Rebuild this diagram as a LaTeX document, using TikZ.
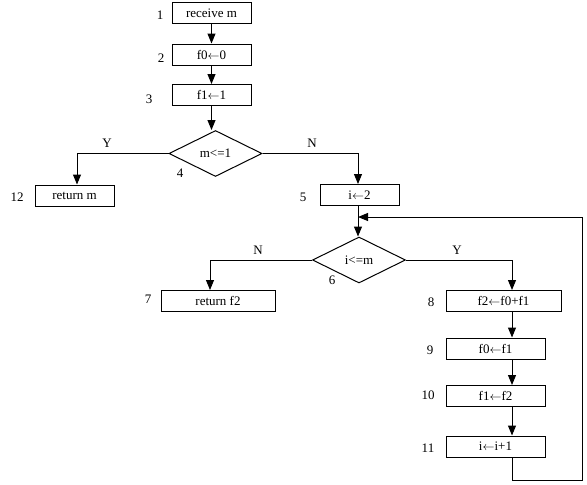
\documentclass[tikz,border=0pt]{standalone}
\usepackage{fontspec}
\setmainfont{Liberation Serif}
\usetikzlibrary{arrows.meta,shapes.geometric}
\begin{document}
\begin{tikzpicture}[x=1pt,y=-1pt,
  font=\fontsize{13}{15}\selectfont,
  every path/.style={line width=1pt},
  box/.style={draw,rectangle,inner sep=0pt,minimum height=21pt},
  dec/.style={draw,diamond,inner sep=0pt,minimum width=93pt,minimum height=46pt,aspect=2},
  num/.style={inner sep=0pt,anchor=center},
  arr/.style={-{Triangle[width=8pt,length=10pt]}}]
\useasboundingbox (0,0) rectangle (587,485);
\fill[white] (0,0) rectangle (587,485);
% boxes
\node[box,minimum width=79pt] (b1) at (211.5,13) {receive m};
\node[box,minimum width=79pt] (b2) at (211.5,54.5) {f0$\leftarrow$0};
\node[box,minimum width=79pt] (b3) at (211.5,95) {f1$\leftarrow$1};
\node[dec] (d4) at (215.5,153.5) {m<=1};
\node[box,minimum width=79pt] (b12) at (74.5,195.5) {return m};
\node[box,minimum width=79pt] (b5) at (359.5,195) {i$\leftarrow$2};
\node[dec] (d6) at (359,260) {i<=m};
\node[box,minimum width=114pt] (b7) at (218,301) {return f2};
\node[box,minimum width=115pt] (b8) at (503.5,301) {f2$\leftarrow$f0+f1};
\node[box,minimum width=99pt] (b9) at (495.5,348.5) {f0$\leftarrow$f1};
\node[box,minimum width=99pt] (b10) at (495.5,396) {f1$\leftarrow$f2};
\node[box,minimum width=99pt] (b11) at (495.5,446.5) {i$\leftarrow$i+1};
% numbers
\node[num] (n1) at (160,15) {1};
\node[num] (n2) at (161,58) {2};
\node[num] (n3) at (149,99) {3};
\node[num] (n4) at (180,173) {4};
\node[num] (n5) at (303,197) {5};
\node[num] (n6) at (332,280) {6};
\node[num] (n7) at (148,299) {7};
\node[num] (n8) at (431,302) {8};
\node[num] (n9) at (430,350) {9};
\node[num] (n10) at (428,395) {10};
\node[num] (n11) at (428,448) {11};
\node[num] (n12) at (17,197) {12};
% branch labels
\node[num] (y4) at (107,143) {Y};
\node[num] (nn4) at (312,143) {N};
\node[num] (nn6) at (258,250) {N};
\node[num] (y6) at (457,250) {Y};
% connectors
\draw[arr] (b1.south -| 211.5,0) -- (b2.north);
\draw[arr] (b2.south) -- (b3.north);
\draw[arr] (b3.south) -- (d4.north -| b3.south);
\draw[arr] (d4.west) -| (b12.north -| 77,0);
\draw[arr] (d4.east) -| (b5.north -| 358,0);
\draw[arr] (b5.south -| 358,0) -- (d6.north -| 358,0);
\draw[arr] (d6.west) -| (b7.north -| 210,0);
\draw[arr] (d6.east) -| (b8.north -| 512,0);
\draw[arr] (b8.south -| 512,0) -- (b9.north -| 512,0);
\draw[arr] (b9.south -| 512,0) -- (b10.north -| 512,0);
\draw[arr] (b10.south -| 512,0) -- (b11.north -| 512,0);
\coordinate (c1) at (512,480);
\coordinate (c2) at (582,480);
\coordinate (c3) at (582,217);
\coordinate (c4) at (358,217);
\draw[arr] (b11.south -| 512,0) -- (c1) -- (c2) -- (c3) -- (c4);
\end{tikzpicture}
\end{document}
